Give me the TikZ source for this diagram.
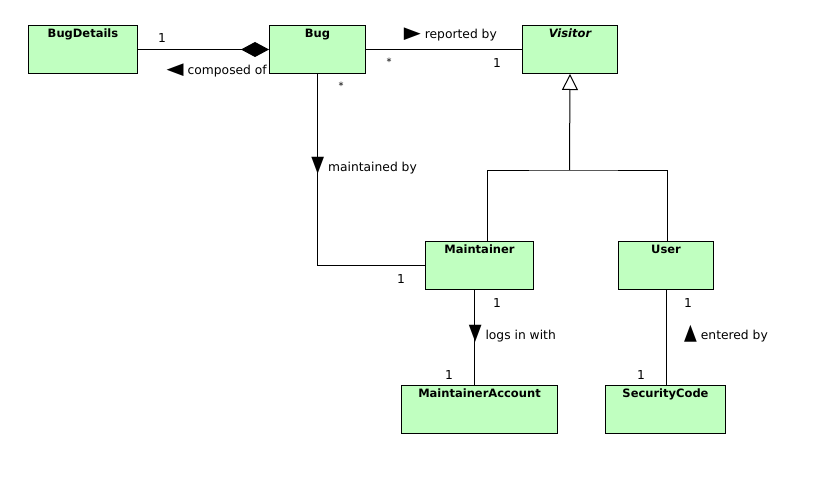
\documentclass[tikz,border=0pt]{standalone}
\usepackage{fontspec}
\setmainfont{DejaVu Sans}
\usetikzlibrary{arrows.meta}
\definecolor{classgreen}{RGB}{192,255,192}
\newcommand\rtri{\scalebox{1.8}[1.35]{▶}}
\newcommand\ltri{\scalebox{1.8}[1.35]{◀}}
\newcommand\dtri{\scalebox{1.35}[1.8]{▼}}
\newcommand\utri{\scalebox{1.35}[1.8]{▲}}
\tikzset{
  umlclass/.style={draw, fill=classgreen, line width=1pt, anchor=north west, inner xsep=0pt, inner ysep=2pt,
    text height=10pt, text depth=34pt, minimum height=48pt, font=\fontsize{11.5}{13}\selectfont\bfseries},
  assoc/.style={line width=1pt},
  lbl/.style={inner sep=0pt, anchor=base east, font=\fontsize{12.3}{14}\selectfont},
  mult/.style={inner sep=0pt, anchor=base, font=\fontsize{12.3}{14}\selectfont},
  many/.style={inner sep=0pt, anchor=base, font=\fontsize{10}{12}\selectfont},
}
\begin{document}
\begin{tikzpicture}
[x=1pt, y=-1pt]
\useasboundingbox (0,0) rectangle (817,487);
% classes
\node [umlclass, minimum width=109pt] (bugdetails) at (28,25) {BugDetails};
\node [umlclass, minimum width=96pt] (bug) at (269,25) {Bug};
\node [umlclass, minimum width=95pt] (visitor) at (522,25) {\itshape Visitor};
\node [umlclass, minimum width=108pt] (maintainer) at (425,241) {Maintainer};
\node [umlclass, minimum width=95pt] (user) at (618,241) {User};
\node [umlclass, minimum width=156pt] (account) at (401,385) {MaintainerAccount};
\node [umlclass, minimum width=120pt] (code) at (605,385) {SecurityCode};
% associations
\draw [assoc, -{Diamond[length=28pt, width=15pt]}] (bugdetails.east) -- (bug.west);
\draw [assoc] (bug.east) -- (visitor.west);
\draw [assoc] (bug.south) |- (maintainer.west);
\draw [assoc] ([xshift=-5pt]maintainer.south) -- ([xshift=-5pt]account.north);
\draw [assoc] (user.south) -- (user.south |- code.north);
% generalization
\coordinate (fork) at (569.5,170);
\draw [assoc, -{Triangle[open, length=16pt, width=16pt]}] (fork) -- (visitor.south);
\draw [assoc] ([xshift=8pt]maintainer.north) |- (fork) -| ([xshift=1.5pt]user.north);
% labels
\node [mult] (m1) at (162,43) {1};
\node [lbl] (composed) at (267,75) {\ltri\ composed of};
\node [lbl] (reported) at (497,39) {\rtri\ reported by};
\node [many] (m2) at (389,66) {*};
\node [mult] (m3) at (497,67) {1};
\node [many] (m4) at (341,90) {*};
\node [lbl] (maintained) at (417,171) {\dtri\ maintained by};
\node [mult] (m5) at (401,283) {1};
\node [mult] (m6) at (497,307) {1};
\node [lbl] (logs) at (556,339) {\dtri\ logs in with};
\node [mult] (m7) at (449,379) {1};
\node [mult] (m8) at (688,307) {1};
\node [lbl] (entered) at (768,339) {\utri\ entered by};
\node [mult] (m9) at (641,379) {1};
\end{tikzpicture}
\end{document}
